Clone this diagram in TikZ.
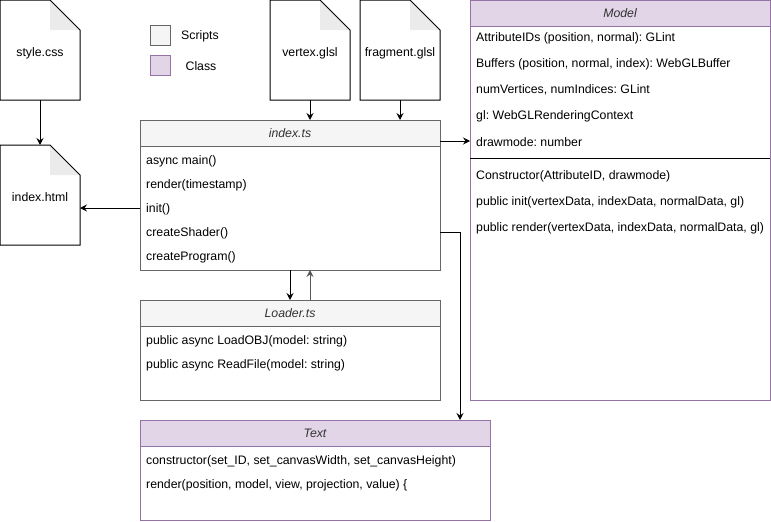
\documentclass[tikz,border=0pt]{standalone}
\usepackage{fontspec}
\setmainfont{Liberation Sans}
\usetikzlibrary{arrows.meta,calc}

\definecolor{scriptfill}{HTML}{F5F5F5}
\definecolor{scriptline}{HTML}{666666}
\definecolor{classfill}{HTML}{E1D5E7}
\definecolor{classline}{HTML}{9673A6}
\definecolor{headtext}{HTML}{333333}
\definecolor{foldfill}{HTML}{EBEBEB}

% outline of a file icon with a folded top-right corner
\newcommand\docfile[1]{%
  \fill[foldfill] ($(#1.north east)+(-30,0)$) -- ($(#1.north east)+(-30,30)$) -- ($(#1.north east)+(0,30)$) -- cycle;
  \draw[line width=1pt, line join=miter] (#1.north west) -- ($(#1.north east)+(-30,0)$) -- ($(#1.north east)+(0,30)$) -- (#1.south east) -- (#1.south west) -- cycle;
}
\newcommand\labelfont{\fontsize{12.3}{14}\selectfont\frenchspacing}

\begin{document}
\begin{tikzpicture}[x=1pt,y=-1pt,
  font=\labelfont,
  box/.style={rectangle, anchor=north west, inner sep=0pt, outer sep=0pt, line width=1pt},
  scriptbody/.style={box, draw=scriptline, fill=white},
  scripthead/.style={box, draw=scriptline, fill=scriptfill, text=headtext,
    font=\labelfont\itshape, minimum height=26pt},
  classbody/.style={box, draw=classline, fill=white},
  classhead/.style={box, draw=classline, fill=classfill, text=headtext,
    font=\labelfont\itshape, minimum height=26pt},
  docnode/.style={box, minimum width=80pt, minimum height=100pt},
  item/.style={anchor=west, inner sep=0pt, text=black},
  legendbox/.style={box, minimum width=20pt, minimum height=20pt, line width=1pt},
  link/.style={line width=1pt, -{Stealth[length=7pt,width=7pt,inset=2.5pt]}},
  backlink/.style={link, draw=black!65, -{Stealth[length=7pt,width=7pt,inset=2.5pt,fill=black]}}
]
\useasboundingbox (0,0) rectangle (771,522);

% ---- files ----
\node[docnode] (style) at (0,0) {};
\docfile{style}
\node at (40,53) {style.css};

\node[docnode] (html) at (0,145) {};
\docfile{html}
\node at (40,197) {index.html};

\node[docnode] (vertex) at (270,0) {};
\docfile{vertex}
\node at (310,53) {vertex.glsl};

\node[docnode] (frag) at (360,0) {};
\docfile{frag}
\node at (400,53) {fragment.glsl};

% ---- legend ----
\node[legendbox, draw=scriptline, fill=scriptfill] (legscript) at (150,25) {};
\node (legscripttext) at (200,36) {Scripts};
\node[legendbox, draw=classline, fill=classfill] (legclass) at (150,55) {};
\node (legclasstext) at (201,66) {Class};

% ---- index.ts ----
\node[scriptbody, minimum width=300pt, minimum height=150pt] (index) at (140,120) {};
\node[scripthead, minimum width=300pt] (indexhead) at (140,120) {index.ts};
\node[item] (imain)   at (146,161) {async main()};
\node[item] (irender) at (146,185) {render(timestamp)};
\node[item] (iinit)   at (146,209) {init()};
\node[item] (ishader) at (146,233) {createShader()};
\node[item] (iprog)   at (146,257) {createProgram()};

% ---- Loader.ts ----
\node[scriptbody, minimum width=300pt, minimum height=100pt] (loader) at (140,300) {};
\node[scripthead, minimum width=300pt] (loaderhead) at (140,300) {Loader.ts};
\node[item] (lobj)  at (146,341) {public async LoadOBJ(model: string)};
\node[item] (lread) at (146,365) {public async ReadFile(model: string)};

% ---- Text ----
\node[classbody, minimum width=350pt, minimum height=100pt] (text) at (140,420) {};
\node[classhead, minimum width=350pt] (texthead) at (140,420) {Text};
\node[item] (tctor)   at (146,461) {constructor(set\_ID, set\_canvasWidth, set\_canvasHeight)};
\node[item] (trender) at (146,485) {render(position, model, view, projection, value) \{};

% ---- Model ----
\node[classbody, minimum width=300pt, minimum height=400pt] (model) at (470,0) {};
\node[classhead, minimum width=300pt] (modelhead) at (470,0) {Model};
\node[item] (mattr)  at (476,38)  {AttributeIDs (position, normal): GLint};
\node[item] (mbuf)   at (476,64)  {Buffers (position, normal, index): WebGLBuffer};
\node[item] (mnum)   at (476,90)  {numVertices, numIndices: GLint};
\node[item] (mgl)    at (476,116) {gl: WebGLRenderingContext};
\node[item] (mdraw)  at (476,142) {drawmode: number};
\draw[line width=1pt] ($(model.north west)+(0,158)$) -- ($(model.north east)+(0,158)$);
\node[item] (mctor)  at (476,176) {Constructor(AttributeID, drawmode)};
\node[item] (minit)  at (476,202) {public init(vertexData, indexData, normalData, gl)};
\node[item] (mrender) at (476,228) {public render(vertexData, indexData, normalData, gl)};

% ---- connectors ----
\draw[link] (style.south) -- (html.north);
\draw[link] (vertex.south) -- (vertex.south |- index.north);
\draw[link] (frag.south) -- (frag.south |- index.north);
\draw[link] ($(index.north west)+(0,88)$) -- ($(html.north east)+(0,63)$);
\draw[link] ($(index.north east)+(0,21)$) -- ($(model.north west)+(0,141)$);
\coordinate (textin) at ($(text.north west)+(320,0)$);
\draw[link] ($(index.north east)+(0,112)$) -| (textin);
\draw[link] ($(index.south west)+(150,0)$) -- ($(loader.north west)+(150,0)$);
\draw[backlink] ($(loader.north west)+(170,0)$) -- ($(index.south west)+(170,0)$);
\end{tikzpicture}
\end{document}
